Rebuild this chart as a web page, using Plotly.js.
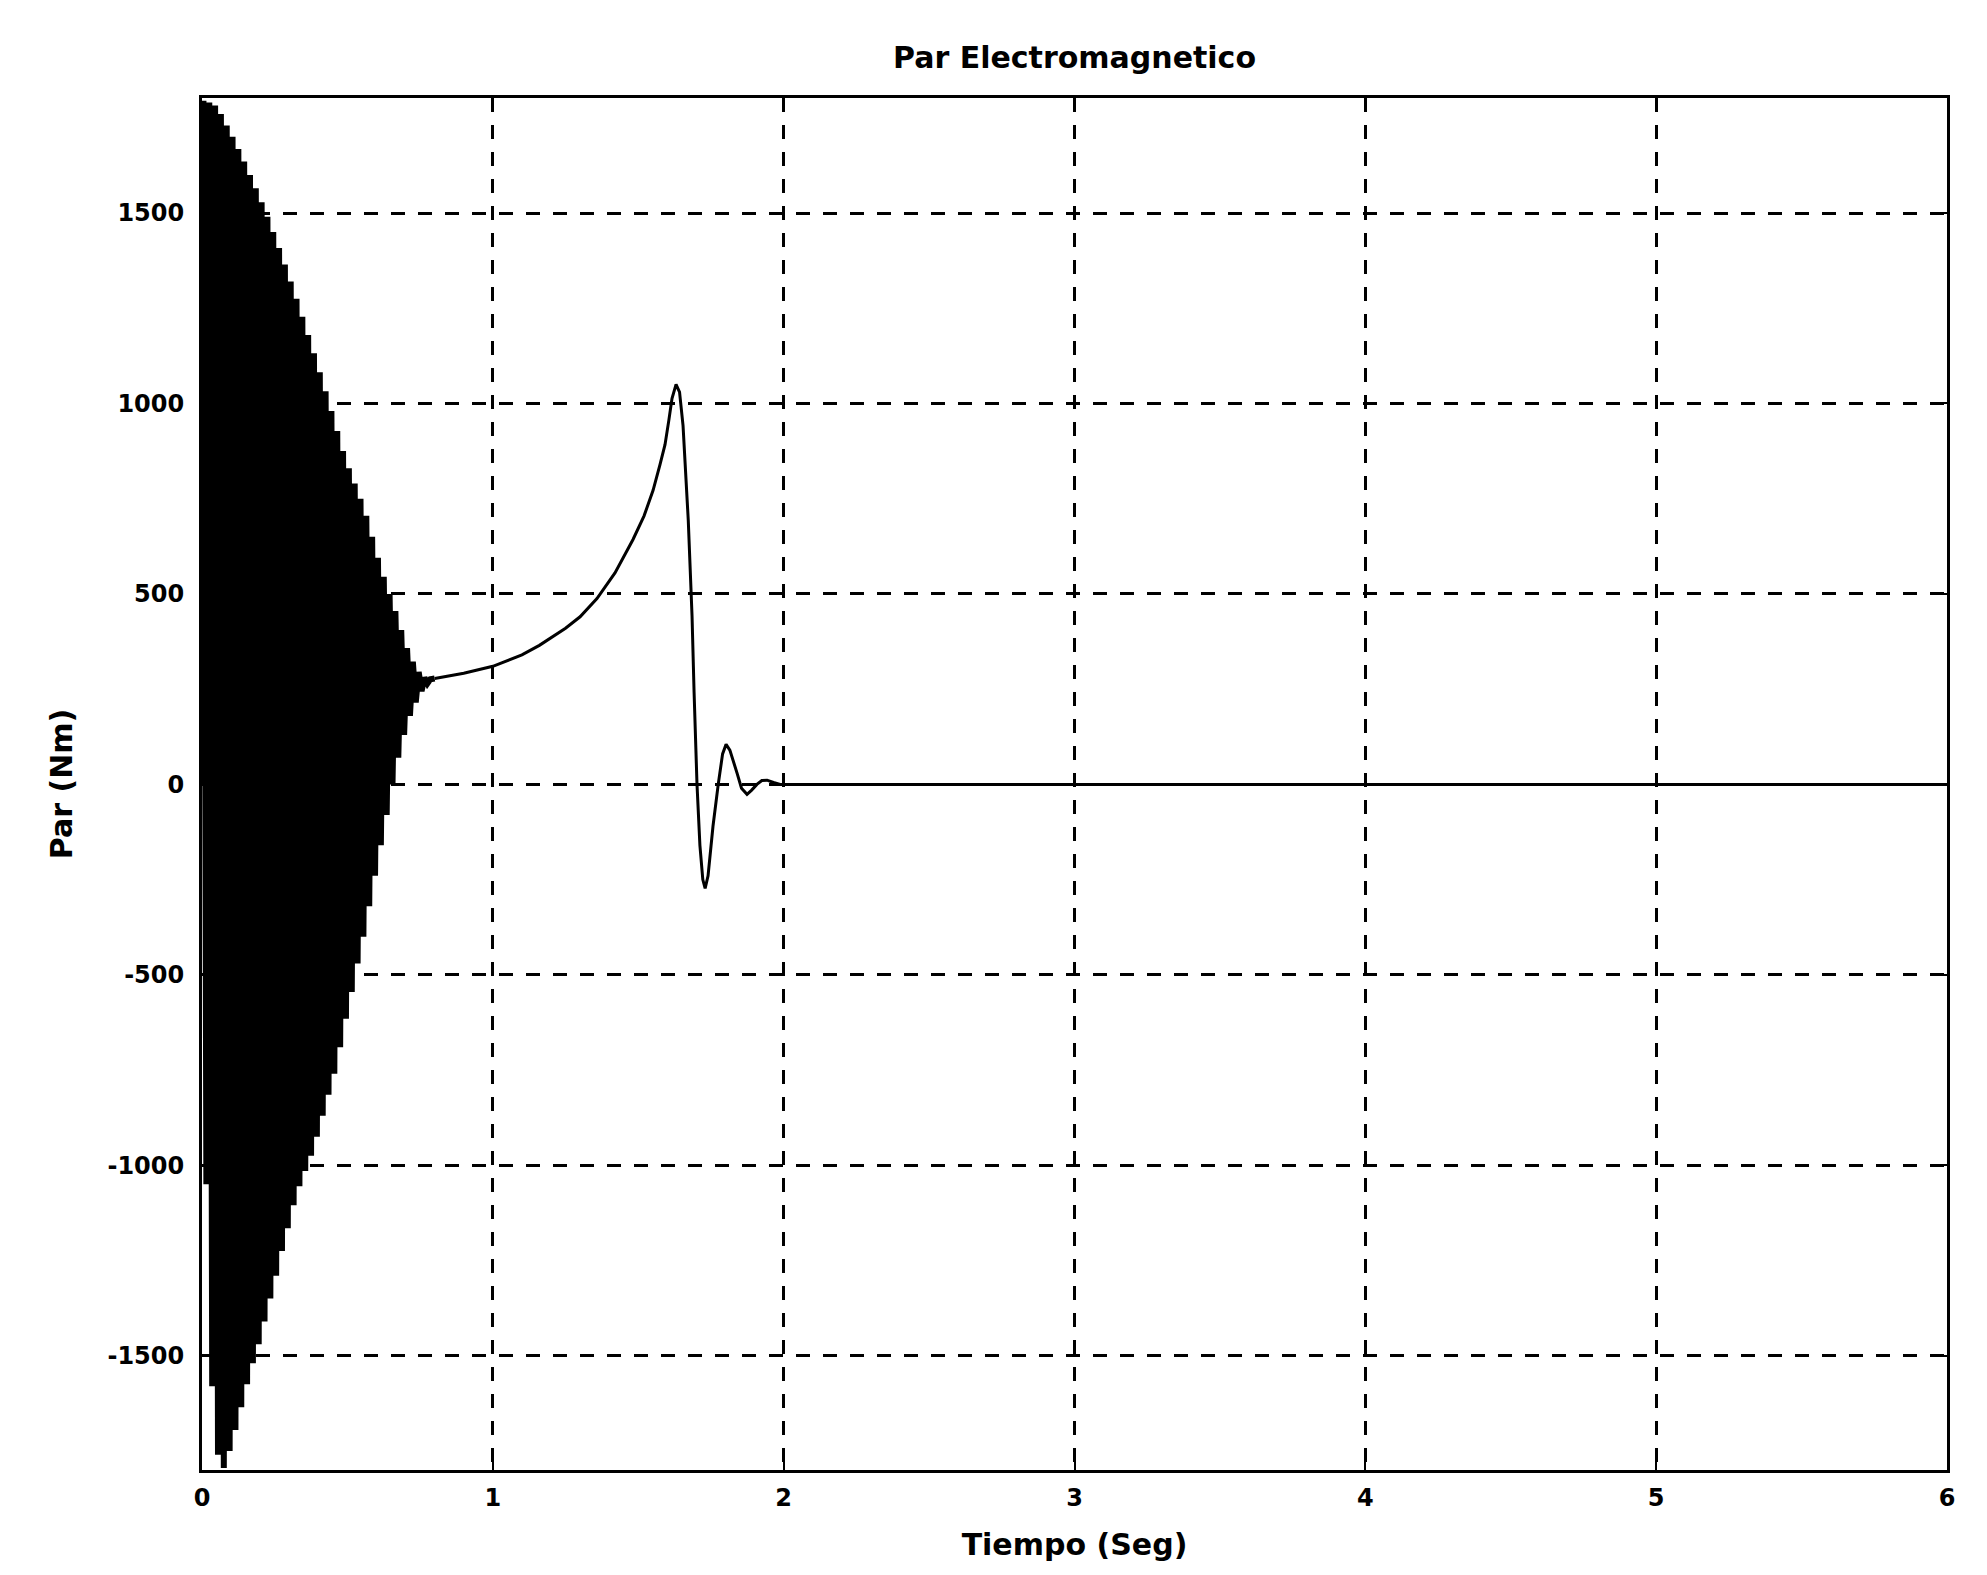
<!DOCTYPE html>
<html>
<head>
<meta charset="utf-8">
<script src="https://cdn.plot.ly/plotly-3.0.1.min.js"></script>
<style>html,body{margin:0;padding:0;background:#fff;}#chart{width:1987px;height:1575px;}</style>
</head>
<body>
<div id="chart"></div>
<script>
// Start-up oscillation: alternating peak / trough values read from the envelopes (s, Nm)
const oscTime = [0, 0.005, 0.015, 0.025, 0.035, 0.045, 0.055, 0.065, 0.075, 0.085, 0.095,
  0.105, 0.115, 0.125, 0.135, 0.145, 0.155, 0.165, 0.175, 0.185, 0.195,
  0.205, 0.215, 0.225, 0.235, 0.245, 0.255, 0.265, 0.275, 0.285, 0.295,
  0.305, 0.315, 0.325, 0.335, 0.345, 0.355, 0.365, 0.375, 0.385, 0.395,
  0.405, 0.415, 0.425, 0.435, 0.445, 0.455, 0.465, 0.475, 0.485, 0.495,
  0.505, 0.515, 0.525, 0.535, 0.545, 0.555, 0.565, 0.575, 0.585, 0.595,
  0.605, 0.615, 0.625, 0.635, 0.645, 0.655, 0.665, 0.675, 0.685, 0.695,
  0.705, 0.715, 0.725, 0.735, 0.745, 0.755, 0.765, 0.775, 0.785, 0.8];
const oscTorque = [0, 1795, -1050, 1790, -1580, 1782, -1760, 1760, -1795, 1730, -1750,
  1700, -1695, 1668, -1635, 1635, -1575, 1600, -1520, 1565, -1470,
  1528, -1410, 1490, -1350, 1450, -1290, 1408, -1225, 1365, -1165,
  1320, -1105, 1275, -1055, 1228, -1015, 1180, -975, 1132, -925,
  1082, -870, 1032, -815, 980, -760, 928, -690, 875, -615,
  830, -545, 790, -470, 750, -400, 705, -320, 650, -240,
  595, -160, 545, -80, 500, 0, 455, 70, 405, 130,
  358, 180, 322, 215, 295, 245, 280, 265, 276, 278];

// Acceleration, pull-out peak and settling (s, Nm)
const tailTime = [0.8, 0.9, 1.0, 1.1, 1.16, 1.25, 1.3, 1.358, 1.42, 1.482, 1.52, 1.551,
  1.575, 1.592, 1.605, 1.616, 1.63, 1.642, 1.654, 1.672, 1.685, 1.692, 1.702, 1.712,
  1.722, 1.73, 1.74, 1.757, 1.775, 1.79, 1.802, 1.815, 1.84, 1.855, 1.874, 1.89,
  1.908, 1.925, 1.943, 1.965, 1.988, 2.5, 3, 4, 5, 6];
const tailTorque = [278, 292, 310, 340, 365, 410, 440, 488, 555, 643, 705, 772,
  840, 892, 955, 1013, 1050, 1030, 942, 693, 441, 241, 0, -160,
  -250, -273, -240, -110, 0, 80, 105, 90, 29, -10, -26, -15,
  0, 10, 11, 5, 0, 0, 0, 0, 0, 0];

const xTicks = [0, 1, 2, 3, 4, 5, 6];
const yTicks = [-1500, -1000, -500, 0, 500, 1000, 1500];

const fontFam = 'DejaVu Sans, Arial, sans-serif';

const oscTrace = {
  x: oscTime, y: oscTorque, type: 'scatter', mode: 'lines',
  line: {color: '#000', width: 6, simplify: false},
  hoverinfo: 'skip', showlegend: false
};
const tailTrace = {
  x: tailTime, y: tailTorque, type: 'scatter', mode: 'lines',
  line: {color: '#000', width: 3, simplify: false},
  hoverinfo: 'skip', showlegend: false
};

const axisCommon = {
  showline: true, linecolor: '#000', linewidth: 3, mirror: 'ticks',
  ticks: 'inside', ticklen: 9, tickwidth: 2, tickcolor: '#000',
  showgrid: true, gridcolor: '#000', gridwidth: 3, griddash: '14px,13px',
  zeroline: false,
  tickfont: {family: fontFam, size: 24, color: '#000', weight: 'bold'}
};

const layout = {
  width: 1987, height: 1575,
  margin: {l: 202, r: 40, t: 98, b: 105},
  paper_bgcolor: '#fff', plot_bgcolor: '#fff',
  title: {
    text: 'Par Electromagnetico',
    font: {family: fontFam, size: 30, color: '#000', weight: 'bold'},
    x: 0.5, xref: 'paper', y: 1 - 57 / 1575, yref: 'container', yanchor: 'middle'
  },
  xaxis: Object.assign({}, axisCommon, {
    range: [0, 6], tickvals: xTicks, ticktext: xTicks.map(String),
    ticklabelstandoff: 4,
    title: {text: 'Tiempo (Seg)', standoff: 24,
      font: {family: fontFam, size: 30, color: '#000', weight: 'bold'}}
  }),
  yaxis: Object.assign({}, axisCommon, {
    range: [-1800, 1802], tickvals: yTicks, ticktext: yTicks.map(String),
    ticklabelstandoff: 10,
    title: {text: 'Par (Nm)', standoff: 26,
      font: {family: fontFam, size: 30, color: '#000', weight: 'bold'}}
  })
};

Plotly.newPlot('chart', [oscTrace, tailTrace], layout, {staticPlot: true, displayModeBar: false});
</script>
</body>
</html>
